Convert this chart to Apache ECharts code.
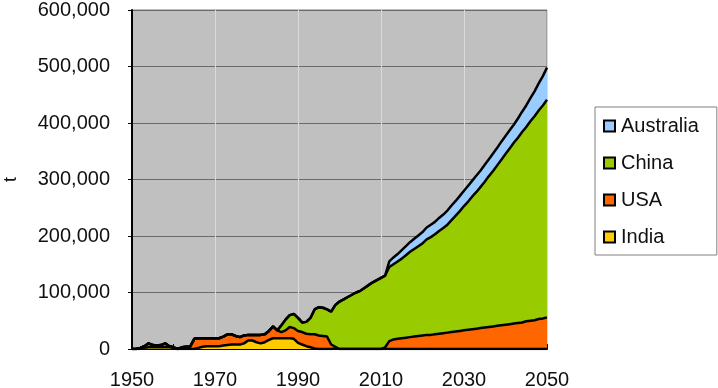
<!DOCTYPE html>
<html>
<head>
<meta charset="utf-8">
<script src="https://cdn.jsdelivr.net/npm/echarts@6/dist/echarts.min.js"></script>
<style>
html,body{margin:0;padding:0;background:#fff;}
#c{width:718px;height:388px;}
</style>
</head>
<body>
<div id="c"></div>
<script>
// values in thousands of tonnes, years 1950..2050
var startYear = 1950, endYear = 2050;
var india = [
  0,0,0,2,3,3,3,3,3,3,
  2,0,0,0,0,0,2,4,5,5,
  5,5,6,7,8,8,8,10,15,15,
  12,10,12,16,19,19,19,19,19,18,
  11,8,5,3,1,0,0,0,0,1,
  0,0,0,0,0,0,0,0,0,0,
  0,0,0,0,0,0,0,0,0,0,
  0,0,0,0,0,0,0,0,0,0,
  0,0,0,0,0,0,0,0,0,0,
  0,0,0,0,0,0,0,0,0,0,
  0
];
var usa = [
  0,0,2,3,7,4,3,4,7,2,
  1,0,3,4,4,18,17,15,14,14,
  14,14,16,19,18,15,13,14,10,10,
  13,15,14,16,21,14,11,14,20,19,
  21,22,22,23,25,24,23,22,8,3,
  0,0,0,0,0,0,0,0,0,0,
  0,3,14,17,18,19,20,21,22,23,
  24,25,25,26,27,28,29,30,31,32,
  33,34,35,36,37,38,39,40,41,42,
  43,44,45,46,47,49,50,51,53,54,
  56
];
var china = [
  0,0,0,0,0,0,0,0,0,0,
  0,0,0,0,0,0,0,0,0,0,
  0,0,0,0,0,0,0,0,0,0,
  0,0,0,0,0,0,12,19,21,25,
  23,17,21,29,44,50,50,48,58,74,
  84,88,92,96,100,103,108,113,118,122,
  126,127,131,133,137,141,146,151,155,159,
  163,169,173,177,182,186,191,198,205,212,
  220,227,235,242,250,258,267,275,284,293,
  302,311,320,328,337,344,353,361,369,377,
  385
];
var australia = [
  0,0,0,0,0,0,0,0,0,0,
  0,0,0,0,0,0,0,0,0,0,
  0,0,0,0,0,0,0,0,0,0,
  0,0,0,0,0,0,0,0,0,0,
  0,0,0,0,0,0,0,0,0,0,
  0,0,0,0,0,0,0,0,0,0,
  0,0,10,12,13,15,16,17,18,19,
  20,21,22,22,23,24,25,26,26,27,
  27,28,28,29,29,30,30,31,31,32,
  32,32,32,34,36,38,41,44,48,52,
  57
];
var unit = 1000;
var yTicks = [0, 100000, 200000, 300000, 400000, 500000, 600000];

var years = [];
for (var y = startYear; y <= endYear; y++) years.push(String(y));

function scaled(arr){ return arr.map(function(v){ return v * unit; }); }
function mk(name, arr, color){
  return {
    name: name, type: 'line', stack: 'total', data: scaled(arr),
    showSymbol: false, symbol: 'none',
    lineStyle: {color: '#000', width: 2.5},
    itemStyle: {color: color, borderColor: '#000', borderWidth: 1.5},
    areaStyle: {color: color, opacity: 1},
    emphasis: {disabled: true}
  };
}
var chart = echarts.init(document.getElementById('c'), null, {renderer: 'canvas'});
chart.setOption({
  animation: false,
  textStyle: {fontFamily: 'Liberation Sans, Arial, sans-serif'},
  grid: {left: 132, right: 171, top: 10, bottom: 39, show: true, outerBoundsMode: 'none',
         backgroundColor: '#c0c0c0', borderColor: '#808080', borderWidth: 1},
  legend: {
    orient: 'vertical', left: 595, top: 107,
    data: ['Australia', 'China', 'USA', 'India'],
    icon: 'rect', itemWidth: 11, itemHeight: 11, itemGap: 17,
    padding: [9, 18, 8, 8],
    borderColor: '#808080', borderWidth: 1,
    textStyle: {fontSize: 20, color: '#111', fontFamily: 'Liberation Sans, Arial, sans-serif', padding: [0,0,0,1]}
  },
  xAxis: {
    type: 'category', data: years, boundaryGap: false,
    axisLine: {show: true, lineStyle: {color: '#000', width: 2}},
    axisTick: {show: true, inside: true, length: 5, interval: 4, lineStyle: {color: '#000'}},
    splitLine: {show: true, interval: 19, lineStyle: {color: '#dadada', width: 1}},
    axisLabel: {fontSize: 20, color: '#111', margin: 21, interval: 19}
  },
  yAxis: {
    type: 'value', min: 0, max: 600000, interval: 100000,
    name: 't', nameLocation: 'middle', nameRotate: 90, nameGap: 112,
    nameTextStyle: {fontSize: 18, color: '#111'},
    axisLine: {show: true, lineStyle: {color: '#000', width: 2}},
    axisTick: {show: true, length: 4, lineStyle: {color: '#000'}},
    splitLine: {show: true, lineStyle: {color: '#6a6a6a', width: 1}},
    axisLabel: {fontSize: 20, color: '#111', margin: 22,
      formatter: function(v){ return yTicks.indexOf(v) >= 0 ? v.toLocaleString('en-US') : ''; }}
  },
  series: [
    mk('India', india, '#ffcc00'),
    mk('USA', usa, '#ff6600'),
    mk('China', china, '#99cc00'),
    mk('Australia', australia, '#99ccff')
  ]
});
</script>
</body>
</html>
